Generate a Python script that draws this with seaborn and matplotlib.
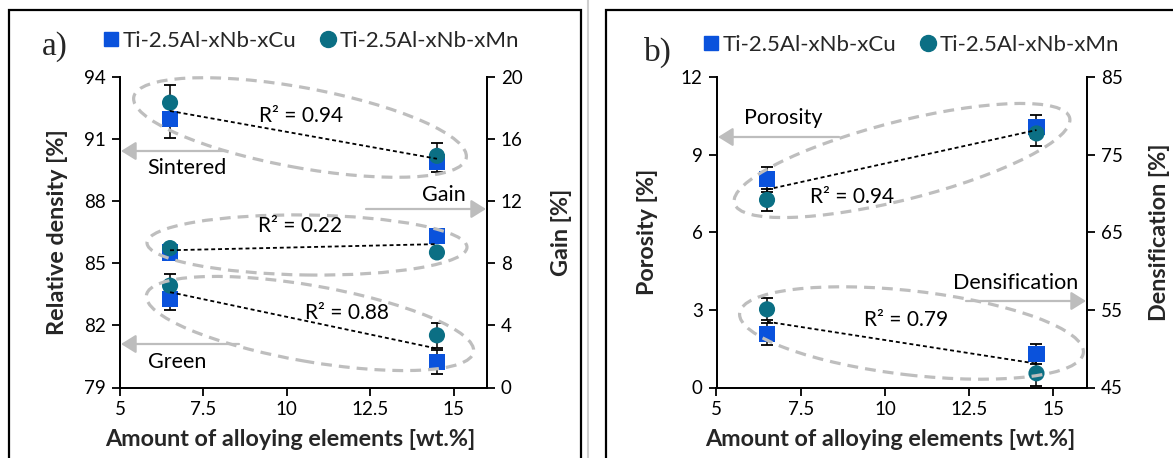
import numpy as np
import pandas as pd
import matplotlib
matplotlib.use("Agg")
import matplotlib.pyplot as plt
import seaborn as sns
from matplotlib.patches import Ellipse, Rectangle, FancyArrowPatch
from matplotlib.lines import Line2D
from matplotlib.transforms import Affine2D

# ---------------------------------------------------------------- data
alloy_wt = [6.5, 14.5]
series = ["Ti-2.5Al-xNb-xCu", "Ti-2.5Al-xNb-xMn"]

# a) relative density (left axis) and gain (right axis)
sintered_cu = [91.96, 89.91]
sintered_cu_err = [0.92, 0.48]
sintered_mn = [92.76, 90.19]
sintered_mn_err = [0.84, 0.64]
green_cu = [83.29, 80.24]
green_cu_err = [0.53, 0.58]
green_mn = [83.92, 81.52]
green_mn_err = [0.56, 0.60]
gain_cu = [8.70, 9.77]
gain_mn = [8.98, 8.70]

# b) porosity (left axis) and densification (right axis)
porosity_cu = [8.05, 10.08]
porosity_cu_err = [0.48, 0.45]
porosity_mn = [7.25, 9.82]
porosity_mn_err = [0.42, 0.47]
densif_cu = [51.89, 49.32]
densif_cu_err = [1.42, 1.28]
densif_mn = [55.07, 46.83]
densif_mn_err = [1.42, 1.60]

r2_labels = {"sintered": "R² = 0.94", "gain": "R² = 0.22", "green": "R² = 0.88",
             "porosity": "R² = 0.94", "densif": "R² = 0.79"}

x_ticks = [5, 7.5, 10, 12.5, 15]
x_tick_labels = ["5", "7.5", "10", "12.5", "15"]

# ---------------------------------------------------------------- style
sns.set_theme(style="ticks")
plt.rcParams["font.family"] = ["Lato", "DejaVu Sans"]
plt.rcParams["axes.linewidth"] = 1.3

CU_COLOR = "#0A52DC"
MN_COLOR = "#0B6F84"
palette = {series[0]: CU_COLOR, series[1]: MN_COLOR}
markers = {series[0]: "s", series[1]: "o"}
ELL_COLOR = "#BEBEBE"
TICK_FS = 13.5
AXLABEL_FS = 16.8
AX_TOP, AX_BOTTOM = 77, 387.5

W, H = 1173, 458
fig = plt.figure(figsize=(W / 100, H / 100), dpi=100)
fig.patch.set_facecolor("white")
pix = Affine2D().scale(1 / W, 1 / H) + fig.transFigure


def P(x, y):
    """pixel position measured from the top-left corner"""
    return (x, H - y)


def make_axes(left, right):
    ax = fig.add_axes([left / W, (H - AX_BOTTOM) / H, (right - left) / W,
                       (AX_BOTTOM - AX_TOP) / H])
    ax2 = ax.twinx()
    for a in (ax, ax2):
        a.spines["top"].set_visible(False)
        for s in a.spines.values():
            s.set_color("black")
            s.set_linewidth(1.3)
        a.tick_params(direction="out", length=6, width=1.3, colors="black",
                      labelsize=TICK_FS, pad=4)
    ax.set_xlim(5, 16)
    ax.set_xticks(x_ticks)
    ax.set_xticklabels(x_tick_labels)
    return ax, ax2


def set_labels(ax, ax2, left, right, xlab, ylab, y2lab, xlab_x, ylab_x, y2lab_x):
    """axis titles, centred on given pixel columns / row"""
    width = right - left
    kw = dict(fontsize=AXLABEL_FS, fontweight="bold")
    ax.set_xlabel(xlab, **kw)
    ax.set_ylabel(ylab, **kw)
    ax2.set_ylabel(y2lab, **kw)
    ax.xaxis.set_label_coords((xlab_x - left) / width,
                              (AX_BOTTOM - 440) / (AX_BOTTOM - AX_TOP))
    ax.xaxis.label.set_va("center")
    ax.yaxis.set_label_coords((ylab_x - left) / width, 0.5)
    ax2.yaxis.set_label_coords((y2lab_x - left) / width, 0.5)
    for lab in (ax.yaxis.label, ax2.yaxis.label):
        lab.set_va("center")
        lab.set_ha("center")


def draw_group(ax, cu, mn, cu_err=None, mn_err=None):
    df = pd.DataFrame({
        "x": alloy_wt * 2,
        "y": cu + mn,
        "alloy": [series[0]] * 2 + [series[1]] * 2,
    })
    for vals, err in ((cu, cu_err), (mn, mn_err)):
        if err is not None:
            ax.errorbar(alloy_wt, vals, yerr=err, fmt="none", ecolor="black",
                        elinewidth=1.1, capsize=4.5, capthick=1.3, zorder=2)
    sns.scatterplot(data=df, x="x", y="y", hue="alloy", style="alloy",
                    palette=palette, markers=markers, s=135, linewidth=0,
                    ax=ax, legend=False, zorder=3)
    slope, intercept = np.polyfit(df["x"], df["y"], 1)
    xs = np.array(alloy_wt)
    ax.plot(xs, slope * xs + intercept, color="black", lw=1.3,
            ls=(0, (2.2, 1.6)), zorder=4)


def dashed_ellipse(cx, cy, w, h, angle):
    e = Ellipse(P(cx, cy), w, h, angle=angle, transform=pix, fill=False,
                edgecolor=ELL_COLOR, lw=2.3, ls=(0, (3.4, 2.2)), zorder=10)
    fig.add_artist(e)


def arrow(x0, y0, x1, y1):
    fig.add_artist(FancyArrowPatch(
        P(x0, y0), P(x1, y1), transform=pix,
        arrowstyle="-|>,head_length=0.45,head_width=0.28",
        mutation_scale=20, color="#BDBDBD", lw=1.6, shrinkA=0, shrinkB=0, zorder=9))


def label(x, y, s, fs=15.5, **kw):
    fig.text(*P(x, y), s, transform=pix, ha="center", va="center",
             fontsize=fs, color="black", zorder=11, **kw)


# ---------------------------------------------------------------- panel a
A_LEFT, A_RIGHT = 120, 487
axA, axA2 = make_axes(A_LEFT, A_RIGHT)
draw_group(axA, sintered_cu, sintered_mn, sintered_cu_err, sintered_mn_err)
draw_group(axA, green_cu, green_mn, green_cu_err, green_mn_err)
draw_group(axA2, gain_cu, gain_mn)
axA.set_ylim(79, 94)
axA.set_yticks(np.arange(79, 95, 3))
axA2.set_ylim(0, 20)
axA2.set_yticks(np.arange(0, 21, 4))
axA.set_xlim(5, 16)
set_labels(axA, axA2, A_LEFT, A_RIGHT, "Amount of alloying elements [wt.%]",
           "Relative density [%]", "Gain [%]", 290, 57, 562)

# ---------------------------------------------------------------- panel b
B_LEFT, B_RIGHT = 716.5, 1087
axB, axB2 = make_axes(B_LEFT, B_RIGHT)
draw_group(axB, porosity_cu, porosity_mn, porosity_cu_err, porosity_mn_err)
draw_group(axB2, densif_cu, densif_mn, densif_cu_err, densif_mn_err)
axB.set_ylim(0, 12)
axB.set_yticks(np.arange(0, 13, 3))
axB2.set_ylim(45, 85)
axB2.set_yticks(np.arange(45, 86, 10))
axB.set_xlim(5, 16)
set_labels(axB, axB2, B_LEFT, B_RIGHT, "Amount of alloying elements [wt.%]",
           "Porosity [%]", "Densification [%]", 890, 648, 1160)

# ---------------------------------------------------------------- ellipses
dashed_ellipse(300, 127.5, 338, 80, -10.4)
dashed_ellipse(307, 245, 320, 60, -0.8)
dashed_ellipse(310, 323.5, 332, 76, -9.9)
dashed_ellipse(902, 160.5, 346, 78, 14.3)
dashed_ellipse(911.5, 333, 346, 84, -6.6)

# ---------------------------------------------------------------- arrows and group names
arrow(226, 151, 121, 151)
label(187, 168, "Sintered")
arrow(366, 209, 486, 209)
label(444, 195, "Gain")
arrow(239, 344, 121, 344)
label(177, 362, "Green")
arrow(839, 137, 718, 137)
label(783, 118, "Porosity")
arrow(966, 301, 1086, 301)
label(1016, 283, "Densification")

# R² labels
label(301, 116, r2_labels["sintered"], fs=15)
label(300, 226, r2_labels["gain"], fs=15)
label(347, 313, r2_labels["green"], fs=15)
label(852, 197, r2_labels["porosity"], fs=15)
label(906, 320, r2_labels["densif"], fs=15)

# ---------------------------------------------------------------- legends and panel tags
handles = [
    Line2D([], [], ls="none", marker="s", markersize=10.5, color=CU_COLOR, label=series[0]),
    Line2D([], [], ls="none", marker="o", markersize=11.5, color=MN_COLOR, label=series[1]),
]
for x_left, y_mid in ((103, 41), (703, 45)):
    fig.legend(handles=handles, loc="center left", bbox_to_anchor=P(x_left, y_mid),
               bbox_transform=pix, ncol=2, frameon=False, fontsize=16,
               handlelength=0.75, handletextpad=0.15, columnspacing=1.05,
               borderpad=0, borderaxespad=0)

fig.text(*P(55, 47), "a)", transform=pix, ha="center", va="center",
         fontsize=24, family="Liberation Serif")
fig.text(*P(658, 52), "b)", transform=pix, ha="center", va="center",
         fontsize=24, family="Liberation Serif")

# ---------------------------------------------------------------- panel frames
fig.add_artist(Rectangle(P(9, 470), 572, 460, transform=pix, fill=False,
                         edgecolor="black", lw=1.6, zorder=12))
fig.add_artist(Rectangle(P(606, 470), 600, 460, transform=pix, fill=False,
                         edgecolor="black", lw=1.6, zorder=12))
fig.add_artist(Line2D([588, 588], [0, H], transform=pix, color="#CFCFCF", lw=1.5))

fig.savefig("out.png", dpi=100, facecolor="white")
